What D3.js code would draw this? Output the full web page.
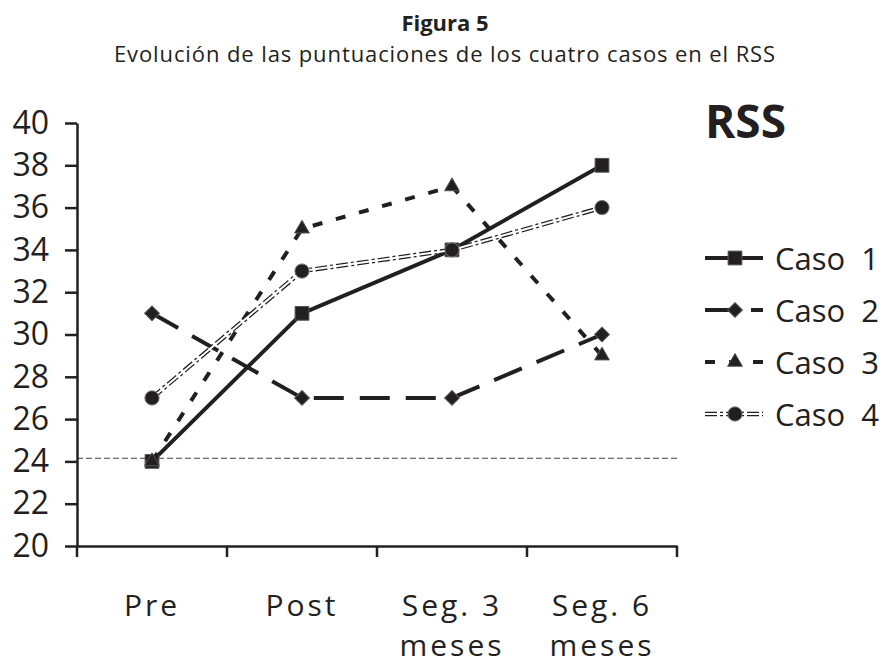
<!DOCTYPE html>
<html>
<head>
<meta charset="utf-8">
<script src="https://cdn.jsdelivr.net/npm/d3@7"></script>
<style>
  body { margin: 0; background: #fff; }
  svg { display: block; font-family: "Open Sans", sans-serif; }
</style>
</head>
<body>
<div id="chart"></div>
<script>
// data
const categories = ['Pre', 'Post', 'Seg. 3|meses', 'Seg. 6|meses'];
const caso1 = [24, 31, 34, 38];
const caso2 = [31, 27, 27, 30];
const caso3 = [24, 35, 37, 29];
const caso4 = [27, 33, 34, 36];
const seriesNames = ['Caso 1', 'Caso 2', 'Caso 3', 'Caso 4'];
const yTicks = [20, 22, 24, 26, 28, 30, 32, 34, 36, 38, 40];
const refValue = 24.15;

const width = 889, height = 665;
const svg = d3.select('#chart').append('svg')
  .attr('width', width)
  .attr('height', height);

const ink = '#231f20';

// title
svg.append('text')
  .attr('x', 445).attr('y', 31)
  .attr('text-anchor', 'middle')
  .style('font-size', '22px')
  .style('font-weight', 'bold')
  .style('fill', ink)
  .text('Figura 5');
svg.append('text')
  .attr('x', 445).attr('y', 62)
  .attr('text-anchor', 'middle')
  .style('font-size', '22px')
  .style('letter-spacing', '0.9px')
  .style('fill', ink)
  .text('Evolución de las puntuaciones de los cuatro casos en el RSS');

const x = d3.scaleBand().domain(categories).range([77, 677]).padding(0);
const y = d3.scaleLinear().domain([20, 40]).range([546, 123]);

// reference line
svg.append('line')
  .attr('x1', x.range()[0]).attr('x2', x.range()[1])
  .attr('y1', y(refValue)).attr('y2', y(refValue))
  .style('stroke', '#444')
  .style('stroke-width', 1.2)
  .style('stroke-dasharray', '6,3');

// y axis
const yAxis = svg.append('g')
  .attr('transform', `translate(${x.range()[0]},0)`)
  .call(d3.axisLeft(y).tickValues(yTicks).tickSize(12).tickSizeOuter(0).tickPadding(16));
yAxis.select('.domain').style('stroke', ink).style('stroke-width', 2.5);
yAxis.selectAll('.tick line').style('stroke', ink).style('stroke-width', 2.5);
yAxis.selectAll('.tick text')
  .style('font-size', '32px')
  .style('font-family', '"Open Sans", sans-serif')
  .style('fill', ink);

// x axis (ticks at the band edges)
const xAxis = svg.append('g')
  .attr('transform', `translate(0,${y(20)})`)
  .call(d3.axisBottom(x).tickSize(0).tickSizeOuter(0).tickPadding(0));
xAxis.select('.domain').style('stroke', ink).style('stroke-width', 2.5);
xAxis.selectAll('.tick text').remove();
const edges = categories.map(c => x(c)).concat([x(categories[categories.length - 1]) + x.bandwidth()]);
xAxis.selectAll('.edge')
  .data(edges)
  .enter().append('line')
  .attr('class', 'edge')
  .attr('x1', d => d).attr('x2', d => d)
  .attr('y1', 0).attr('y2', 11)
  .style('stroke', ink).style('stroke-width', 2.5);

const xLabels = svg.append('g').selectAll('text')
  .data(categories)
  .enter().append('text')
  .attr('x', d => x(d) + x.bandwidth() / 2)
  .attr('y', 616)
  .attr('text-anchor', 'middle')
  .style('font-size', '30px')
  .style('letter-spacing', '3px')
  .style('fill', ink);
xLabels.each(function (d) {
  const parts = d.split('|');
  d3.select(this).selectAll('tspan')
    .data(parts)
    .enter().append('tspan')
    .attr('x', x(d) + x.bandwidth() / 2)
    .attr('dy', (p, i) => i === 0 ? 0 : 40)
    .text(p => p);
});

// series
const px = i => x(categories[i]) + x.bandwidth() / 2;
const line = d3.line().x((d, i) => px(i)).y(d => y(d));

const series = [
  { name: seriesNames[0], values: caso1, dash: null, w: 4, symbol: d3.symbolSquare, size: 190, rot: 0 },
  { name: seriesNames[1], values: caso2, dash: '30,16', w: 4, symbol: d3.symbolSquare, size: 110, rot: 45 },
  { name: seriesNames[2], values: caso3, dash: '10,14', w: 4, symbol: d3.symbolTriangle, size: 95, rot: 0 },
  { name: seriesNames[3], values: caso4, dash: 'double', w: 4, symbol: d3.symbolCircle, size: 160, rot: 0 }
];

function drawStroke(g, s, path) {
  if (s.dash === 'double') {
    g.append('path').attr('d', path)
      .style('fill', 'none').style('stroke', ink).style('stroke-width', 4.5)
      .style('stroke-dasharray', '12,3,3,3');
    g.append('path').attr('d', path)
      .style('fill', 'none').style('stroke', '#fff').style('stroke-width', 2);
  } else {
    g.append('path').attr('d', path)
      .style('fill', 'none').style('stroke', ink).style('stroke-width', s.w)
      .style('stroke-dasharray', s.dash);
  }
}

function drawMarker(g, s, cx, cy) {
  g.append('path')
    .attr('d', d3.symbol().type(s.symbol).size(s.size)())
    .attr('transform', `translate(${cx},${cy}) rotate(${s.rot})`)
    .style('fill', ink)
    .style('stroke', s.symbol === d3.symbolCircle ? '#777' : '#555')
    .style('stroke-width', 1);
}

const plot = svg.append('g');
series.forEach(s => {
  const g = plot.append('g');
  drawStroke(g, s, line(s.values));
  s.values.forEach((v, i) => drawMarker(g, s, px(i), y(v)));
});

// legend
svg.append('text')
  .attr('x', 705).attr('y', 138)
  .style('font-size', '46px')
  .style('font-weight', 'bold')
  .style('fill', ink)
  .text('RSS');

const legend = svg.append('g');
series.forEach((s, i) => {
  const ly = 258 + i * 52;
  const g = legend.append('g');
  drawStroke(g, s, d3.line()([[705, ly], [763, ly]]));
  drawMarker(g, s, 735, ly);
  g.append('text')
    .attr('x', 775).attr('y', ly + 12)
    .style('font-size', '31px')
    .style('fill', ink)
    .text(s.name.replace(' ', '\u00a0\u00a0'));
});
</script>
</body>
</html>
